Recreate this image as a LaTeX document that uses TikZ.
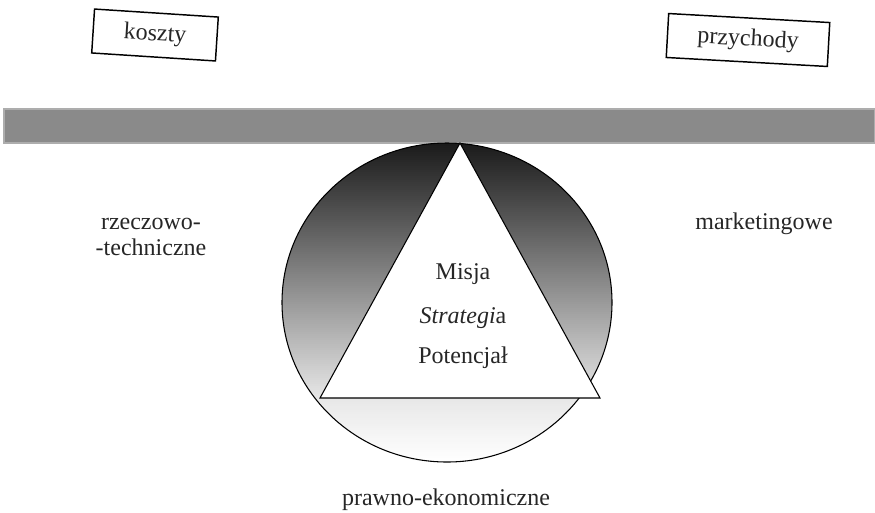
\documentclass[tikz,border=0pt]{standalone}
\usepackage{fontspec}
\setmainfont{Liberation Serif}
\usetikzlibrary{shapes.geometric, positioning}

\begin{document}
\begin{tikzpicture}[
      x=0.75pt, y=-0.75pt,
      font=\fontsize{18}{20}\selectfont,
      word/.style={text=black!85, align=center},
      tag/.style={rectangle, draw, line width=1.1pt, minimum height=33pt, word},
      beam/.style={fill=black!46, draw=black!32, line width=1pt},
      oval/.style={draw, line width=0.8pt},
      core/.style={draw, fill=white, line width=0.8pt, line join=miter}
  ]
  \useasboundingbox (0,0) rectangle (875,512);

  % scale pans
  \node [tag, minimum width=93pt, rotate=-3.7] (koszty) at (155,35) {koszty};
  \node [tag, minimum width=121pt, rotate=-3.2] (przychody) at (748,40) {przychody};

  % beam
  \draw [beam] (4,109) rectangle (875,143);

  % fulcrum, shaded dark at the top to white at the bottom
  \begin{scope}
    \clip (447,302.5) ellipse [x radius=165, y radius=159.5];
    \foreach \k in {0,...,160} {
      \pgfmathsetmacro{\ytop}{142+2*\k}
      \pgfmathsetmacro{\dark}{\ytop<400 ? 90-0.315*(\ytop+1-143) : max(0,9-0.145*(\ytop+1-400))}
      \fill [black!\dark] (280,\ytop) rectangle (615,\ytop+2.6);
    }
  \end{scope}
  \draw [oval] (447,302.5) ellipse [x radius=165, y radius=159.5];
  \coordinate (apex) at (460,143);
  \coordinate (left) at (320,398);
  \coordinate (right) at (600,398);
  \draw [core] (apex) -- (left) -- (right) -- cycle;

  \node [word, anchor=base] (misja) at (463,279) {Misja};
  \node [word, anchor=base] (strategia) at (463,323) {\textit{Strategi}a};
  \node [word, anchor=base] (potencjal) at (463,363) {Potencjał};

  % sides
  \node [word] (rzeczowo) at (151,237) {rzeczowo-\\-techniczne};
  \node [word, anchor=base] (marketing) at (764,229) {marketingowe};
  \node [word, anchor=base] (prawno) at (446,505) {prawno-ekonomiczne};

\end{tikzpicture}
\end{document}
